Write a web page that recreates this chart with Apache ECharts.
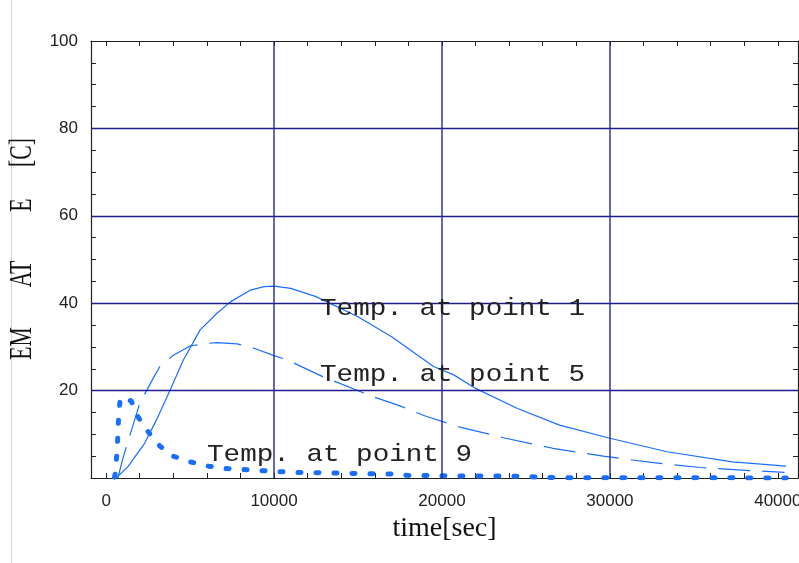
<!DOCTYPE html>
<html>
<head>
<meta charset="utf-8">
<script src="https://cdn.jsdelivr.net/npm/echarts@6/dist/echarts.min.js"></script>
<style>
  html, body { margin: 0; padding: 0; background: #ffffff; }
  #chart { width: 799px; height: 563px; }
</style>
</head>
<body>
<div id="chart"></div>
<script>
// Temperature histories [time in s, temperature in C]
const point1 = [
  [600, 0], [1300, 2.6], [2300, 8], [3000, 13.3], [3800, 20], [4600, 27],
  [5600, 33.9], [6600, 37.7], [7400, 40.3], [8600, 43], [9400, 43.8],
  [10000, 43.9], [11000, 43.4], [12500, 41.5], [15000, 36.9], [17000, 32.3],
  [19500, 25.5], [20700, 23.6], [22000, 20.5], [24500, 15.9], [27000, 12.1],
  [30000, 9.1], [33400, 6.0], [37300, 3.7], [40500, 2.7]
];
const point5 = [
  [700, 0], [1000, 4.5], [2000, 17.1], [2800, 22.8], [3200, 25.5], [4000, 28.1],
  [5000, 30.2], [5800, 30.7], [6600, 31], [7800, 30.7], [8800, 29.7],
  [10000, 28], [10800, 27], [12900, 23.2], [15900, 18.6], [17500, 16.5],
  [19000, 14.2], [21000, 11.7], [23800, 9.1], [26600, 6.8], [29600, 5],
  [32600, 3.5], [35400, 2.4], [38300, 1.7], [40400, 1.3]
];
const point9 = [
  [500, 0.2], [560, 1.4], [640, 5.6], [700, 9.8], [740, 13.7], [830, 17.8],
  [1000, 18.6], [1500, 17.6], [1900, 14], [2500, 10.6], [3200, 7.3], [4000, 5],
  [5000, 3.7], [6100, 2.7], [7000, 2.2], [9200, 1.7], [11000, 1.3],
  [14000, 1.1], [17000, 0.9], [18000, 0.6], [20000, 0.5], [25000, 0.4],
  [26000, 0.1], [30000, 0.05], [40500, 0.02]
];
const seriesNames = ['Temp. at point 1', 'Temp. at point 5', 'Temp. at point 9'];

// Axis ticks and labels
const xLabelValues = [0, 10000, 20000, 30000, 40000];
const yLabelValues = [20, 40, 60, 80, 100];
const xGridValues = [10000, 20000, 30000];
const yGridValues = [20, 40, 60, 80];

const xTickValues = [];
for (let v = 0; v <= 40000; v += 2000) xTickValues.push(v);
const yTickValues = [];
for (let v = 5; v < 100; v += 5) yTickValues.push(v);

const lineBlue = '#1a6eff';
const frameColor = '#222222';
const X_MIN = -900, X_MAX = 41200;

const chart = echarts.init(document.getElementById('chart'), null, { renderer: 'canvas' });

const frameAxisLine = { show: true, onZero: false, lineStyle: { color: frameColor, width: 1.2 } };
const plainNumber = v => String(v);

const titleFont = '31px "Liberation Serif", "Times New Roman", serif';
const captionFont = '24px "Liberation Mono", "Courier New", monospace';

function yTitlePiece(text, y) {
  return {
    type: 'text', x: 23, y: y, rotation: Math.PI / 2, scaleX: 0.7,
    style: { text: text, font: titleFont, fill: '#111', align: 'center', verticalAlign: 'middle', textAlign: 'center', textVerticalAlign: 'middle' }
  };
}
function caption(text, x, y) {
  return {
    type: 'text', x: x, y: y, scaleX: 1.15, z: 10,
    style: { text: text, font: captionFont, fill: '#222', align: 'left', verticalAlign: 'middle', textAlign: 'left', textVerticalAlign: 'middle' }
  };
}

const option = {
  animation: false,
  backgroundColor: '#ffffff',
  grid: { left: 91, right: 1, top: 41, bottom: 85, containLabel: false, outerBoundsMode: 'none' },
  xAxis: [
    {
      type: 'value', min: X_MIN, max: X_MAX, position: 'bottom',
      name: 'time[sec]', nameLocation: 'middle', nameGap: 28,
      nameTextStyle: { fontFamily: '"Liberation Serif", "Times New Roman", serif', fontSize: 28, color: '#111' },
      axisLine: frameAxisLine,
      axisTick: { show: true, inside: true, length: 5, customValues: xTickValues, lineStyle: { color: frameColor, width: 1 } },
      axisLabel: { show: true, customValues: xLabelValues, formatter: plainNumber, margin: 15, fontFamily: '"Liberation Sans", Arial, sans-serif', fontSize: 17, color: '#222' },
      splitLine: { show: false }
    },
    {
      type: 'value', min: X_MIN, max: X_MAX, position: 'top',
      axisLine: frameAxisLine,
      axisTick: { show: true, inside: true, length: 5, customValues: xTickValues, lineStyle: { color: frameColor, width: 1 } },
      axisLabel: { show: false },
      splitLine: { show: false }
    }
  ],
  yAxis: [
    {
      type: 'value', min: 0, max: 100, interval: 20, position: 'left',
      axisLine: frameAxisLine,
      axisTick: { show: true, inside: true, length: 5, customValues: yTickValues, lineStyle: { color: frameColor, width: 1 } },
      axisLabel: { show: true, customValues: yLabelValues, formatter: plainNumber, margin: 13, fontFamily: '"Liberation Sans", Arial, sans-serif', fontSize: 17, color: '#222' },
      splitLine: { show: false }
    },
    {
      type: 'value', min: 0, max: 100, position: 'right',
      axisLine: frameAxisLine,
      axisTick: { show: true, inside: true, length: 5, customValues: yTickValues, lineStyle: { color: frameColor, width: 1 } },
      axisLabel: { show: false },
      splitLine: { show: false }
    }
  ],
  series: [
    {
      name: seriesNames[0], type: 'line', data: point1, showSymbol: false, symbol: 'none',
      lineStyle: { color: lineBlue, width: 1.2 },
      z: 3,
      markLine: {
        silent: true, symbol: 'none', label: { show: false },
        data: yGridValues.map(v => ({ yAxis: v, lineStyle: { color: '#1c1c8c', width: 1.4, type: 'solid' } }))
          .concat(xGridValues.map(v => ({ xAxis: v, lineStyle: { color: 'rgba(40,40,150,0.7)', width: 2, type: 'solid' } })))
      }
    },
    {
      name: seriesNames[1], type: 'line', data: point5, showSymbol: false, symbol: 'none',
      lineStyle: { color: lineBlue, width: 1.2, type: [32, 12] },
      z: 3
    },
    {
      name: seriesNames[2], type: 'line', data: point9, showSymbol: false, symbol: 'none',
      lineStyle: { color: lineBlue, width: 5, type: [3, 15], cap: 'round' },
      z: 3
    }
  ],
  graphic: [
    { type: 'line', shape: { x1: 11.5, y1: 0, x2: 11.5, y2: 563 }, style: { stroke: '#d4d4d4', lineWidth: 1 }, silent: true },
    // Series captions
    caption(seriesNames[0], 320, 309),
    caption(seriesNames[1], 320, 375),
    caption(seriesNames[2], 207, 455),
    // Vertical axis title, drawn in pieces
    yTitlePiece('EM', 343.5),
    yTitlePiece('AT', 274),
    yTitlePiece('E', 205),
    yTitlePiece('[C]', 152.5)
  ]
};

chart.setOption(option);
</script>
</body>
</html>
